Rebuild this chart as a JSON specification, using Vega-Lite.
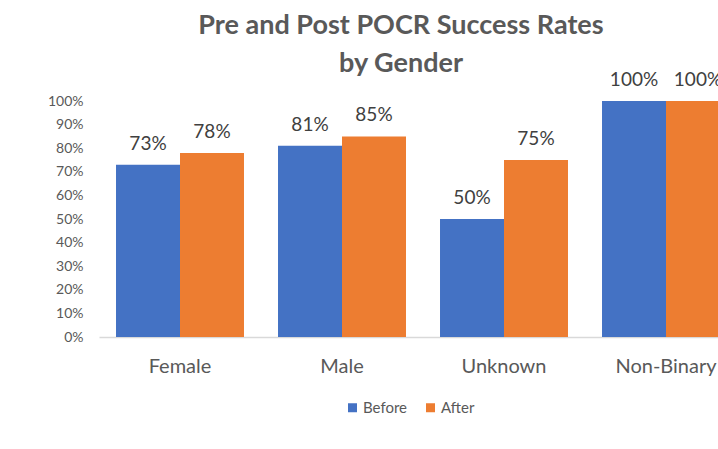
{
  "$schema": "https://vega.github.io/schema/vega-lite/v6.json",
  "width": 648,
  "height": 236,
  "autosize": {"type": "none"},
  "padding": {"left": 99, "top": 101, "right": -29, "bottom": 112},
  "background": "white",
  "title": {
    "text": ["Pre and Post POCR Success Rates", "by Gender"],
    "font": "Lato",
    "fontSize": 27,
    "fontWeight": "bold",
    "color": "#595959",
    "lineHeight": 38,
    "anchor": "middle",
    "dx": -22,
    "offset": -7
  },
  "data": {
    "values": [
      {"gender": "Female", "period": "Before", "rate": 0.73},
      {"gender": "Female", "period": "After", "rate": 0.78},
      {"gender": "Male", "period": "Before", "rate": 0.81},
      {"gender": "Male", "period": "After", "rate": 0.85},
      {"gender": "Unknown", "period": "Before", "rate": 0.50},
      {"gender": "Unknown", "period": "After", "rate": 0.75},
      {"gender": "Non-Binary", "period": "Before", "rate": 1.0},
      {"gender": "Non-Binary", "period": "After", "rate": 1.0}
    ]
  },
  "encoding": {
    "x": {
      "field": "gender",
      "type": "nominal",
      "sort": ["Female", "Male", "Unknown", "Non-Binary"],
      "scale": {"paddingInner": 0.21, "paddingOuter": 0.105},
      "axis": {
        "title": null,
        "labelAngle": 0,
        "labelFont": "Lato",
        "labelFontSize": 20,
        "labelColor": "#595959",
        "labelPadding": 19,
        "ticks": false,
        "domainColor": "#d9d9d9",
        "domainWidth": 1.5
      }
    },
    "xOffset": {
      "field": "period",
      "type": "nominal",
      "sort": ["Before", "After"],
      "scale": {"paddingInner": 0, "paddingOuter": 0}
    },
    "y": {
      "field": "rate",
      "type": "quantitative",
      "scale": {"domain": [0, 1]},
      "axis": {
        "title": null,
        "format": ".0%",
        "values": [0, 0.1, 0.2, 0.3, 0.4, 0.5, 0.6, 0.7, 0.8, 0.9, 1],
        "grid": false,
        "domain": false,
        "ticks": false,
        "labelFont": "Lato",
        "labelFontSize": 14,
        "labelColor": "#595959",
        "labelPadding": 16
      }
    }
  },
  "layer": [
    {
      "mark": {"type": "bar"},
      "encoding": {
        "color": {
          "field": "period",
          "type": "nominal",
          "sort": ["Before", "After"],
          "scale": {"domain": ["Before", "After"], "range": ["#4472C4", "#ED7D31"]},
          "legend": {
            "title": null,
            "orient": "none",
            "legendX": 246,
            "legendY": 299,
            "direction": "horizontal",
            "symbolType": "square",
            "symbolSize": 81,
            "symbolStrokeWidth": 0,
            "labelFont": "Lato",
            "labelFontSize": 15,
            "labelColor": "#595959",
            "labelOffset": 3,
            "columnPadding": 15
          }
        }
      }
    },
    {
      "mark": {"type": "text", "baseline": "bottom", "dy": -11, "font": "Lato", "fontSize": 19, "color": "#404040"},
      "encoding": {
        "text": {"field": "rate", "type": "quantitative", "format": ".0%"}
      }
    }
  ],
  "config": {"view": {"stroke": null}}
}
